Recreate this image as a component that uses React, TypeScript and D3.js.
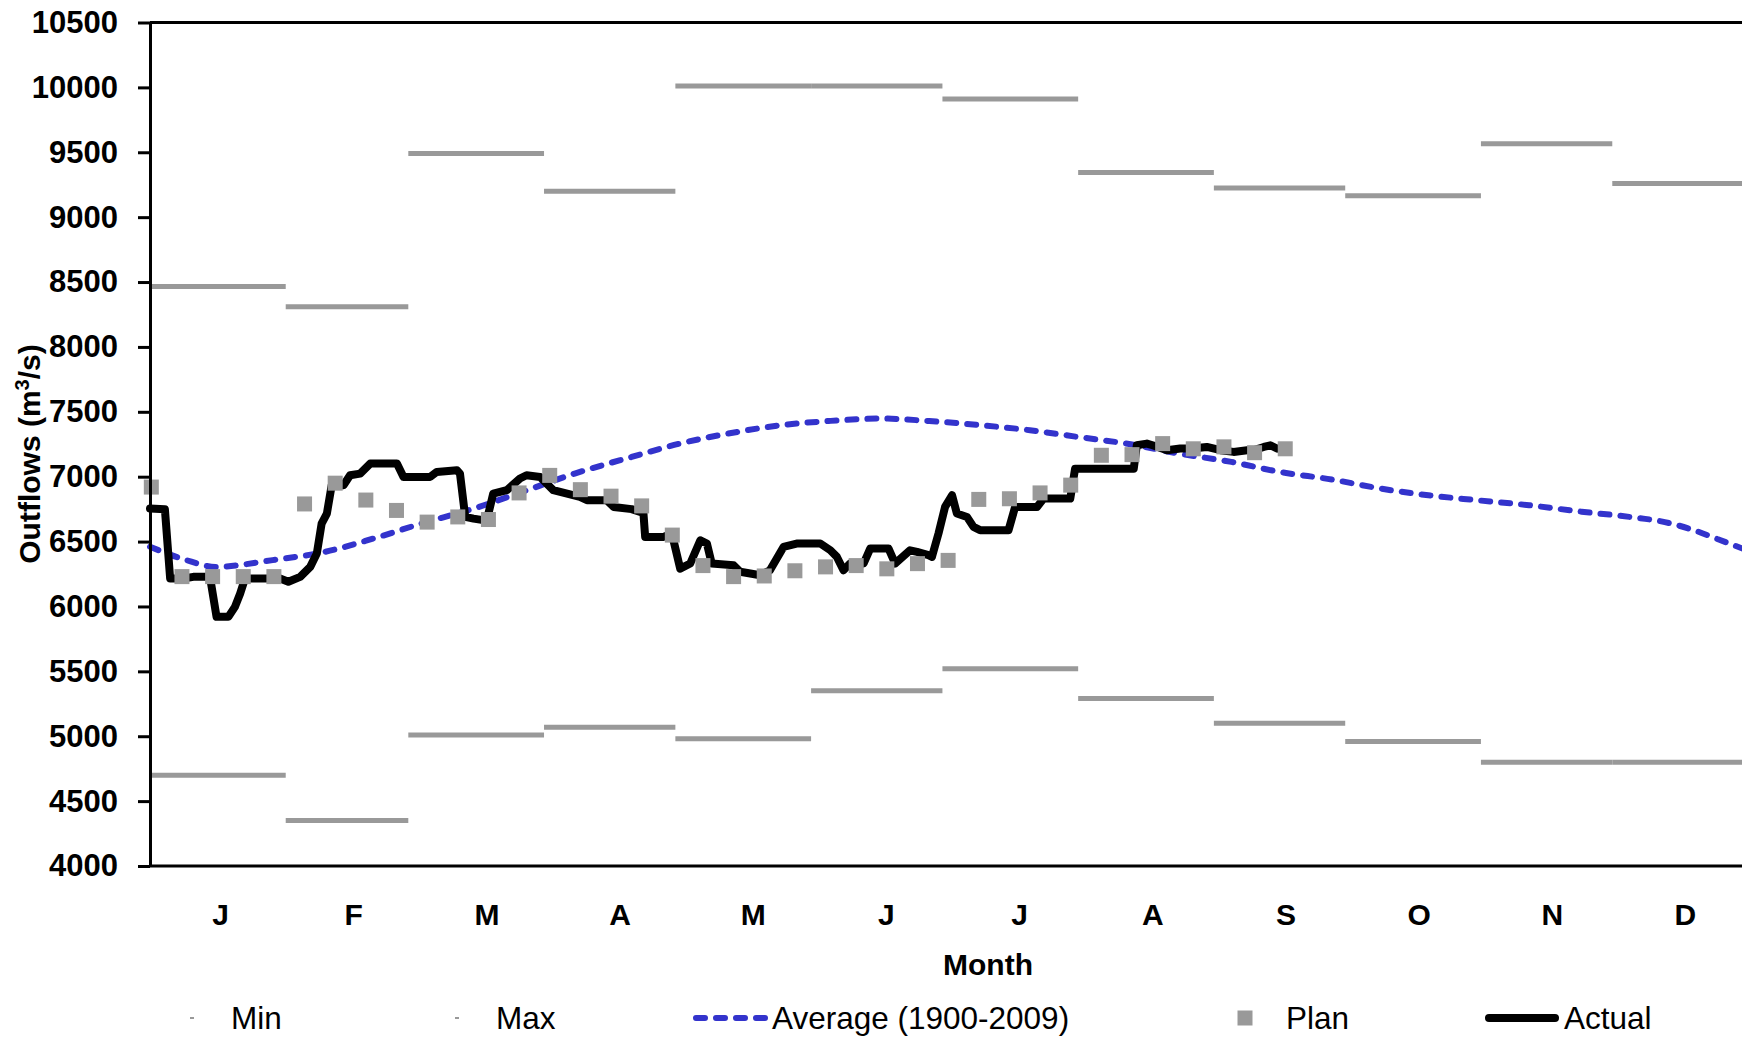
import { useEffect, useRef } from "react";
import * as d3 from "d3";

const WIDTH = 1742;
const HEIGHT = 1037;
const PLOT = { left: 150, right: 1748, top: 22.5, bottom: 866 };
const FONT = "'Liberation Sans', Arial, sans-serif";

// month boundaries (day of year) and the 12 month letters
const MONTH_START = [0, 31, 59, 90, 120, 151, 181, 212, 243, 273, 304, 334, 365];
const MONTH_LABELS = ["J", "F", "M", "A", "M", "J", "J", "A", "S", "O", "N", "D"];

// historical monthly extremes
const MAX_FLOW = [8465, 8310, 9490, 9200, 10010, 10010, 9910, 9345, 9225, 9165, 9565, 9260];
const MIN_FLOW = [4700, 4350, 5010, 5070, 4980, 5350, 5520, 5290, 5100, 4960, 4800, 4800];

// long-term average (1900-2009)
const AVG_DAYS = [0, 8, 15, 28, 40, 51, 62, 74, 85, 97, 110, 121, 132, 144, 155, 167, 178, 190, 201, 212, 224, 235, 247, 258, 270, 281, 292, 303, 315, 327, 338, 346, 352, 358, 365];
const AVG_FLOW = [6460, 6360, 6305, 6357, 6421, 6523, 6639, 6755, 6883, 7024, 7152, 7255, 7332, 7396, 7429, 7448, 7429, 7396, 7358, 7306, 7250, 7178, 7114, 7037, 6978, 6909, 6857, 6819, 6780, 6730, 6690, 6650, 6595, 6520, 6430];

// weekly plan
const PLAN_FLOW = [6920, 6230, 6230, 6230, 6230, 6790, 6950, 6820, 6740, 6650, 6690, 6670, 6875, 7010, 6900, 6850, 6775, 6550, 6315, 6230, 6235, 6275, 6305, 6315, 6290, 6330, 6355, 6825, 6830, 6875, 6935, 7165, 7170, 7255, 7215, 7230, 7185, 7215];

// daily actual outflow (break points)
const ACTUAL_DAYS = [0, 3.4, 4.6, 7.6, 9.9, 13.7, 15.2, 17.9, 19.4, 20.6, 21.7, 29.7, 31.6, 34.3, 36.6, 38.1, 39.2, 40.4, 41.5, 44.2, 45.7, 48, 50.3, 56.4, 57.9, 64, 65.5, 70.1, 70.8, 72, 73.9, 76.1, 77.3, 78.4, 81.5, 84.5, 86, 89.1, 92.1, 98.2, 99.8, 104.3, 105.9, 110, 112.7, 113.1, 117.3, 119.2, 121.1, 123.4, 125.7, 127.2, 128.3, 133.3, 134.8, 139.4, 141.6, 144.7, 147.7, 153.1, 155.4, 156.9, 158.4, 159.9, 163, 164.5, 168.7, 170.2, 173.6, 175.2, 177.8, 178.6, 180.1, 181.6, 183.2, 184.3, 186.6, 188.1, 189.6, 196.1, 197.6, 202.6, 204.1, 210.2, 211.3, 224.7, 225.4, 227.7, 229, 232.3, 235.3, 238, 241.4, 244.5, 247.5, 250.6, 252, 254.4, 255.9, 257.4];
const ACTUAL_FLOW = [6755, 6750, 6215, 6215, 6228, 6228, 5920, 5920, 5997, 6100, 6215, 6215, 6190, 6228, 6305, 6408, 6639, 6716, 6934, 6934, 7011, 7024, 7101, 7101, 6998, 6998, 7037, 7050, 7024, 6690, 6677, 6665, 6716, 6870, 6896, 6986, 7011, 6998, 6896, 6844, 6819, 6819, 6767, 6750, 6721, 6536, 6536, 6562, 6292, 6331, 6510, 6485, 6331, 6318, 6267, 6241, 6279, 6459, 6485, 6485, 6433, 6382, 6279, 6331, 6331, 6446, 6446, 6331, 6433, 6420, 6395, 6382, 6562, 6767, 6857, 6716, 6690, 6613, 6588, 6588, 6767, 6767, 6831, 6831, 7062, 7062, 7242, 7255, 7242, 7204, 7217, 7217, 7229, 7204, 7191, 7204, 7204, 7229, 7242, 7217];

const GREY = "#999999";
const BLUE = "#3333CC";

const App = () => {
  const yAxisRef = useRef<SVGGElement>(null);
  const xAxisRef = useRef<SVGGElement>(null);

  const xScale = d3.scaleLinear().domain([0, 365]).range([PLOT.left, PLOT.right]);
  const yScale = d3.scaleLinear().domain([4000, 10500]).range([PLOT.bottom, PLOT.top]);
  // month letters sit on 12 equal slots, slightly right of the day scale
  const monthBand = d3
    .scaleBand<number>()
    .domain(d3.range(12))
    .range([PLOT.left + 4, PLOT.right + 4]);

  useEffect(() => {
    const yAxis = d3
      .axisLeft(yScale)
      .tickValues(d3.range(4000, 10501, 500))
      .tickFormat((d) => String(d))
      .tickSize(12)
      .tickSizeOuter(0)
      .tickPadding(20);
    const gy = d3.select(yAxisRef.current);
    gy.selectAll("*").remove();
    gy.call(yAxis);
    gy.select(".domain").attr("stroke", "#000").attr("stroke-width", 3);
    gy.selectAll(".tick line").attr("stroke", "#000").attr("stroke-width", 3);
    gy.selectAll(".tick text")
      .attr("fill", "#000")
      .style("font-family", FONT)
      .style("font-size", "31px")
      .style("font-weight", "bold");

    const xAxis = d3
      .axisBottom(monthBand)
      .tickFormat((i) => MONTH_LABELS[i as number])
      .tickSize(0)
      .tickSizeOuter(0)
      .tickPadding(38);
    const gx = d3.select(xAxisRef.current);
    gx.selectAll("*").remove();
    gx.call(xAxis);
    gx.select(".domain").remove();
    gx.selectAll(".tick text")
      .attr("fill", "#000")
      .style("font-family", FONT)
      .style("font-size", "30px")
      .style("font-weight", "bold");
  }, []);

  const avgLine = d3
    .line<number>()
    .x((_, i) => xScale(AVG_DAYS[i]))
    .y((d) => yScale(d))
    .curve(d3.curveMonotoneX)(AVG_FLOW);

  const actualLine = d3
    .line<number>()
    .x((_, i) => xScale(ACTUAL_DAYS[i]))
    .y((d) => yScale(d))(ACTUAL_FLOW);

  const legendY = 1018;

  return (
    <svg
      width={WIDTH}
      height={HEIGHT}
      style={{ position: "absolute", left: 0, top: 0, background: "#fff" }}
      fontFamily={FONT}
    >
      {/* frame: top and bottom */}
      <line x1={PLOT.left} x2={PLOT.right} y1={yScale(10500)} y2={yScale(10500)} stroke="#000" strokeWidth={3} />
      <line x1={PLOT.left} x2={PLOT.right} y1={yScale(4000)} y2={yScale(4000)} stroke="#000" strokeWidth={3} />

      {/* monthly max / min */}
      {MAX_FLOW.map((v, i) => (
        <line key={"max" + i} x1={xScale(MONTH_START[i])} x2={xScale(MONTH_START[i + 1])} y1={yScale(v)} y2={yScale(v)} stroke={GREY} strokeWidth={5} />
      ))}
      {MIN_FLOW.map((v, i) => (
        <line key={"min" + i} x1={xScale(MONTH_START[i])} x2={xScale(MONTH_START[i + 1])} y1={yScale(v)} y2={yScale(v)} stroke={GREY} strokeWidth={5} />
      ))}

      {/* average */}
      <path d={avgLine ?? ""} fill="none" stroke={BLUE} strokeWidth={6} strokeDasharray="9 11" strokeLinecap="round" />

      {/* actual */}
      <path d={actualLine ?? ""} fill="none" stroke="#000" strokeWidth={8} strokeLinejoin="round" strokeLinecap="round" />

      {/* plan */}
      {PLAN_FLOW.map((v, i) => (
        <rect key={"plan" + i} x={xScale(i * 7 + 0.3) - 7.5} y={yScale(v) - 7.5} width={15} height={15} fill={GREY} />
      ))}

      <g ref={yAxisRef} transform={`translate(${PLOT.left},0)`} />
      <g ref={xAxisRef} transform={`translate(0,${PLOT.bottom})`} />

      {/* axis titles */}
      <text transform={`translate(40,454) rotate(-90)`} textAnchor="middle" fontSize={30} fontWeight="bold" fill="#000">
        Outflows (m<tspan fontSize={20} dy={-11}>3</tspan><tspan dy={11}>/s)</tspan>
      </text>
      <text x={988} y={975} textAnchor="middle" fontSize={30} fontWeight="bold" fill="#000">
        Month
      </text>

      {/* legend */}
      <g fontSize={31.5} fill="#000">
        <rect x={190} y={legendY - 1} width={4} height={2} fill={GREY} />
        <text x={231} y={legendY + 11}>Min</text>
        <rect x={455} y={legendY - 1} width={4} height={2} fill={GREY} />
        <text x={496} y={legendY + 11}>Max</text>
        <line x1={696} x2={766} y1={legendY} y2={legendY} stroke={BLUE} strokeWidth={6} strokeDasharray="9 11" strokeLinecap="round" />
        <text x={772} y={legendY + 11}>Average (1900-2009)</text>
        <rect x={1237.5} y={legendY - 7.5} width={15} height={15} fill={GREY} />
        <text x={1286} y={legendY + 11}>Plan</text>
        <line x1={1489} x2={1555} y1={legendY} y2={legendY} stroke="#000" strokeWidth={8} strokeLinecap="round" />
        <text x={1564} y={legendY + 11}>Actual</text>
      </g>
    </svg>
  );
};

export default App;
